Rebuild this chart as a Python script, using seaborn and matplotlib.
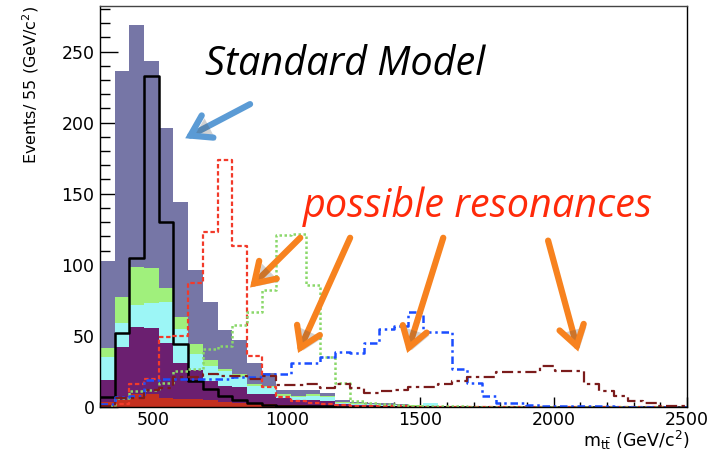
import numpy as np
import pandas as pd
import matplotlib
matplotlib.use("Agg")
import matplotlib.pyplot as plt
import matplotlib.patheffects as pe
from matplotlib.ticker import MultipleLocator
import seaborn as sns

# 40 bins of 55 GeV between 300 and 2500
edges = np.arange(300, 2501, 55)
centers = edges[:-1] + 27.5

# Standard Model stack (events per bin, bottom to top)
sm_red = [3.8, 5, 9, 9, 6, 5.5, 5.6, 5, 3.7, 3, 2.6, 2, 1.5, 1.5, 1, 1, 0.5, 0.5, 0.3, 0.3,
          0.2, 0.2, 0.1, 0.1, 0.1, 0.1, 0.1, 0, 0, 0, 0, 0, 0, 0, 0, 0, 0, 0, 0, 0]
sm_purple = [15.2, 37.5, 47.6, 46.5, 39, 25.5, 20.4, 13, 11.3, 11, 6.4, 7, 4.5, 3.5, 4, 3, 1.5, 1, 0.9, 0.7,
             0.6, 0.4, 0.4, 0.3, 0.2, 0.2, 0.1, 0.1, 0.1, 0.1, 0.1, 0, 0, 0, 0, 0, 0, 0, 0, 0]
sm_cyan = [16.4, 16.5, 15.4, 17.5, 29, 23.5, 11, 11, 10, 7, 5.5, 5, 2, 2, 3, 3, 1, 0.5, 0.6, 0.5,
           0.4, 0.4, 2.0, 0.2, 0.2, 0.1, 0.1, 0.1, 0.1, 0, 0, 0, 0, 0, 0, 0, 0, 0, 0, 0]
sm_green = [5.9, 18.7, 26.8, 24.6, 10, 9.1, 7.2, 4, 2, 2, 1.5, 1, 1, 1, 1, 1, 0.5, 0.5, 0.2, 0.2,
            0.2, 0.1, 0.1, 0.1, 0.1, 0, 0, 0, 0, 0, 0, 0, 0, 0, 0, 0, 0, 0, 0, 0]
sm_slate = [61.7, 158.3, 170.2, 145.4, 112, 80.4, 51.8, 41, 27, 24, 15, 9, 3, 4, 3, 2, 1.5, 1, 1, 0.8,
            0.6, 0.5, 0.3, 0.3, 0.2, 0.2, 0.2, 0.1, 0.1, 0.1, 0.1, 0.1, 0, 0, 0, 0, 0, 0, 0, 0]

# outlined histograms
ttbar_line = [7, 52, 105, 233, 130, 44, 18, 12.5, 8, 5, 2.5, 1.5, 1, 1, 0.5, 0.5, 0.3, 0.3, 0.2, 0.2,
              0.1, 0.1, 0.1, 0, 0, 0, 0, 0, 0, 0, 0, 0, 0, 0, 0, 0, 0, 0, 0, 0]
res_750 = [1, 2, 16, 20, 49.5, 50, 87.5, 123, 173.5, 113, 36, 14, 7, 4, 3, 2, 1.5, 1, 0.8, 0.5,
           0.4, 0.3, 0.2, 0.2, 0.1, 0.1, 0, 0, 0, 0, 0, 0, 0, 0, 0, 0, 0, 0, 0, 0]
res_1000 = [0.5, 6, 11.5, 12, 17, 25, 27, 41, 43, 58, 67, 82, 121, 122, 86, 35, 17, 4, 3, 2,
            1.5, 1, 0.8, 0.5, 0.4, 0.3, 0.2, 0.1, 0, 0, 0, 0, 0, 0, 0, 0, 0, 0, 0, 0]
res_1500 = [2, 7, 8, 19, 19.5, 19.5, 19.5, 20, 20, 21, 21, 23, 23, 31, 31, 35, 39, 38, 45, 55,
            57, 67, 53, 53, 27, 17, 8, 3, 2.5, 1.5, 1, 0.8, 0.6, 0.5, 0.4, 0.3, 0.2, 0.2, 0.1, 0.1]
res_2000 = [1, 6, 6, 12, 13, 21, 21, 23, 22, 22, 20, 22, 15.5, 15.5, 16.5, 13, 16.5, 13, 10, 11,
            12, 14, 14, 16.5, 18.5, 21, 21, 24.5, 24.5, 24.5, 29, 25, 25, 16.5, 11.5, 8, 4, 2.6, 1, 0.5]

stack_names = ["slate", "green", "cyan", "purple", "red"]
stack_cols = ["#7676a6", "#a0f07c", "#9cf6f6", "#6b1f70", "#c4301f"]
stack_vals = [sm_slate, sm_green, sm_cyan, sm_purple, sm_red]

df = pd.concat([pd.DataFrame({"m": centers, "w": v, "comp": n})
                for n, v in zip(stack_names, stack_vals)], ignore_index=True)

sns.set_style("ticks")
plt.rcParams["font.family"] = ["DejaVu Sans"]
plt.rcParams["text.color"] = "black"
plt.rcParams["axes.labelcolor"] = "black"
plt.rcParams["xtick.color"] = "black"
plt.rcParams["ytick.color"] = "black"

fig = plt.figure(figsize=(7.15, 4.51), dpi=100)
ax = fig.add_axes([0.14, 0.0976, 0.821, 0.889])

sns.histplot(data=df, x="m", weights="w", hue="comp", hue_order=stack_names,
             palette=dict(zip(stack_names, stack_cols)), bins=40, binrange=(300, 2500),
             multiple="stack", element="step", alpha=1, linewidth=0,
             legend=False, ax=ax)

lines = [
    (ttbar_line, "black", "-", 1.8),
    (res_750, "#f23a2a", (0, (2, 1.2)), 1.6),
    (res_1000, "#8ad86a", (0, (1, 1)), 1.8),
    (res_1500, "#1a4dff", (0, (3, 1.5, 1, 1.5)), 1.8),
    (res_2000, "#7b1c1c", (0, (5, 2, 1.5, 2)), 1.6),
]
for vals, col, ls, lw in lines:
    sns.histplot(x=centers, weights=vals, bins=40, binrange=(300, 2500),
                 element="step", fill=False,
                 color=col, linestyle=ls, linewidth=lw, ax=ax)

ax.set_xlim(300, 2500)
ax.set_ylim(0, 282)
ax.xaxis.set_major_locator(MultipleLocator(500))
ax.xaxis.set_minor_locator(MultipleLocator(100))
ax.yaxis.set_major_locator(MultipleLocator(50))
ax.yaxis.set_minor_locator(MultipleLocator(10))
ax.tick_params(axis="both", which="both", direction="in", labelsize=12.5, width=1,
               color="black", labelcolor="black")
ax.tick_params(axis="y", which="major", length=13, pad=4)
ax.tick_params(axis="y", which="minor", length=7)
ax.tick_params(axis="x", which="major", length=7, pad=3)
ax.tick_params(axis="x", which="minor", length=3.5)
for s in ax.spines.values():
    s.set_color("black")
    s.set_linewidth(1)
ax.spines["top"].set_color("#444444")

ax.set_ylabel("Events/ 55 (GeV/c$^2$)", loc="top", fontsize=11.5)
ax.yaxis.set_label_coords(-0.1, 1.0)
ax.set_xlabel(r"m$_{\mathregular{t\bar{t}}}$ (GeV/c$^2$)", loc="right", fontsize=12.5)
ax.xaxis.set_label_coords(1.005, -0.055)

# annotations
ax.text(694, 241, "Standard Model", family="Open Sans", style="italic", fontsize=28.5,
        color="black", va="center", ha="left")
ax.text(1061, 141, "possible resonances", family="Open Sans", style="italic", fontsize=28.5,
        color="#ff2a0a", va="center", ha="left")

shadow = [pe.SimplePatchShadow(offset=(2, -2), alpha=0.25), pe.Normal()]
arrows = [
    ((862, 213), (619, 189), "#5b9bd5"),
    ((1050, 119), (862, 84), "#f7821f"),
    ((1237, 119), (1042, 38), "#f7821f"),
    ((1586, 119), (1451, 38), "#f7821f"),
    ((1979, 117), (2092, 39), "#f7821f"),
]
for tail, head, col in arrows:
    ann = ax.annotate("", xy=head, xytext=tail,
                      arrowprops=dict(arrowstyle="->,head_length=0.7,head_width=0.45",
                                      color=col, lw=4.5, mutation_scale=20,
                                      shrinkA=0, shrinkB=0, capstyle="round",
                                      joinstyle="miter"))
    ann.arrow_patch.set_path_effects(shadow)

fig.savefig("out.png", dpi=100)
